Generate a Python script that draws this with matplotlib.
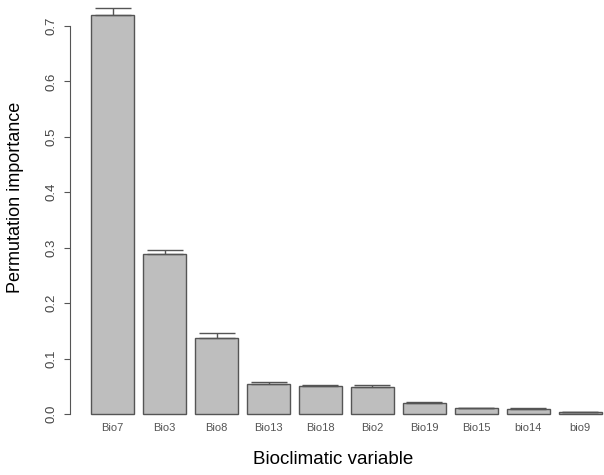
import numpy as np
import matplotlib
matplotlib.use('Agg')
import matplotlib.pyplot as plt

plt.rcParams['font.family'] = ['Liberation Sans', 'DejaVu Sans']

variables = ['Bio7', 'Bio3', 'Bio8', 'Bio13', 'Bio18', 'Bio2', 'Bio19', 'Bio15', 'bio14', 'bio9']
importance = [0.720, 0.289, 0.138, 0.0547, 0.0505, 0.0487, 0.0204, 0.0108, 0.0096, 0.003]
err_up = [0.012, 0.007, 0.009, 0.003, 0.0025, 0.004, 0.0015, 0.0005, 0.0005, 0.0003]
yticks = [0.0, 0.1, 0.2, 0.3, 0.4, 0.5, 0.6, 0.7]

W, H = 604, 475
fig = plt.figure(figsize=(W / 100, H / 100), dpi=100)
# axes placed in pixels: left at y-axis line, bottom near zero line
ax = fig.add_axes([70 / W, (H - 416) / H, (W - 70) / W, 416 / H])

# R barplot style: width 1, space 0.2
pos = 0.2 + 0.5 + 1.2 * np.arange(len(variables))
ax.bar(pos, importance, width=1.0, color='#bebebe', edgecolor='#555555', linewidth=1.0)
ax.errorbar(pos, importance, yerr=[np.zeros(len(err_up)), err_up], fmt='none',
            ecolor='#555555', elinewidth=1.0, capsize=13, capthick=1.0)

px_per_unit = 43.3
ax.set_xlim(0.2 - (91 - 70) / px_per_unit, 0.2 + (W - 91) / px_per_unit)
ax.set_ylim(-2 / 554.3, 414 / 554.3)

for s in ['top', 'right', 'bottom']:
    ax.spines[s].set_visible(False)
ax.spines['left'].set_bounds(0, 0.7)
ax.spines['left'].set_color('#555555')
ax.set_yticks(yticks)
ax.set_yticklabels(['%.1f' % v for v in yticks], rotation=90, va='center', fontsize=9.5, color='#444444')
ax.tick_params(axis='y', length=4, color='#555555', pad=5)
ax.set_xticks(pos)
ax.set_xticklabels(variables, fontsize=8, color='#555555')
ax.tick_params(axis='x', length=0, pad=5)

ax.set_ylabel('Permutation importance', fontsize=13)
ax.yaxis.set_label_coords(-0.086, 0.526)
fig.text(333 / W, 1 - 460 / H, 'Bioclimatic variable', ha='center', va='center', fontsize=13.5)

fig.savefig('out.png', dpi=100, facecolor='white')
